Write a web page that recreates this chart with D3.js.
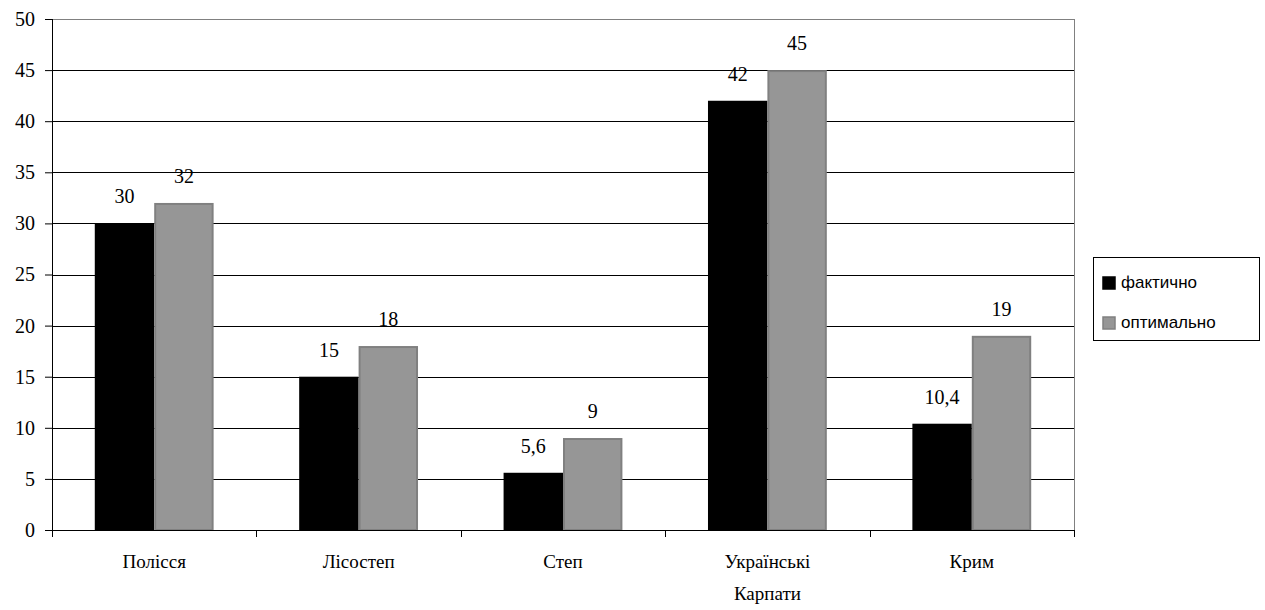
<!DOCTYPE html>
<html>
<head>
<meta charset="utf-8">
<script src="https://cdnjs.cloudflare.com/ajax/libs/d3/7.8.4/d3.min.js"></script>
<style>
  body { margin: 0; background: #fff; }
  svg { display: block; }
</style>
</head>
<body>
<div id="chart"></div>
<script>
const regions = ["Полісся", "Лісостеп", "Степ", "Українські Карпати", "Крим"];
const fact = [30, 15, 5.6, 42, 10.4];
const optimal = [32, 18, 9, 45, 19];
const seriesNames = ["фактично", "оптимально"];
const yTicks = [0, 5, 10, 15, 20, 25, 30, 35, 40, 45, 50];

const SERIF = "'Liberation Serif', 'Times New Roman', serif";
const SANS = "'Liberation Sans', Arial, sans-serif";

const W = 1265, H = 610;
const margin = { top: 19, right: 191, bottom: 80, left: 52 };
const width = W - margin.left - margin.right,
  height = H - margin.top - margin.bottom;

const svg = d3.select("#chart").append("svg")
  .attr("width", W).attr("height", H);
const g = svg.append("g")
  .attr("transform", `translate(${margin.left},${margin.top})`);

// echelles
const x = d3.scaleBand().domain(regions).range([0, width]);
const xInner = d3.scaleBand().domain(seriesNames)
  .range([0, x.bandwidth()]).paddingInner(0).paddingOuter(0.72);
const y = d3.scaleLinear().domain([0, 50]).range([height, 0]);

// lignes de grille
g.selectAll(".grid").data(yTicks.filter(d => d > 0)).join("line")
  .attr("x1", 0).attr("x2", width)
  .attr("y1", d => Math.round(y(d)) + 0.5).attr("y2", d => Math.round(y(d)) + 0.5)
  .attr("stroke", d => d === 50 ? "#808080" : "#000").attr("stroke-width", 1);

// bord droit
g.append("line")
  .attr("x1", width + 0.5).attr("x2", width + 0.5)
  .attr("y1", 0).attr("y2", height)
  .attr("stroke", "#808080");

// barres
const colors = ["#000000", "#969696"];
const strokes = ["#000000", "#808080"];
const rows = regions.map((r, i) => ({ region: r, values: [fact[i], optimal[i]] }));

const grp = g.selectAll(".cat").data(rows).join("g")
  .attr("transform", d => `translate(${x(d.region)},0)`);

grp.selectAll("rect").data(d => d.values.map((v, k) => ({ v, k }))).join("rect")
  .attr("x", d => xInner(seriesNames[d.k]) + 1)
  .attr("y", d => y(d.v) + 1)
  .attr("width", xInner.bandwidth() - 2)
  .attr("height", d => height - y(d.v) - 1)
  .attr("fill", d => colors[d.k])
  .attr("stroke", d => strokes[d.k])
  .attr("stroke-width", 2);

const fmt = v => String(v).replace(".", ",");
grp.selectAll("text.val").data(d => d.values.map((v, k) => ({ v, k }))).join("text")
  .attr("class", "val")
  .attr("x", d => xInner(seriesNames[d.k]) + xInner.bandwidth() / 2)
  .attr("y", d => y(d.v) - 20)
  .attr("text-anchor", "middle")
  .style("font-family", SERIF)
  .style("font-size", "20px")
  .text(d => fmt(d.v));

// axe Y
const yAxis = d3.axisLeft(y).tickValues(yTicks).tickSize(7).tickPadding(10);
const ya = g.append("g").call(yAxis).attr("font-family", null).attr("font-size", null);
ya.select(".domain").attr("d", `M0.5,0V${height}`).attr("stroke", "#000");
ya.selectAll(".tick line").attr("stroke", "#000");
ya.selectAll("text")
  .style("font-family", SERIF)
  .style("font-size", "20px").attr("fill", "#000");

// axe X
const xa = g.append("g").attr("transform", `translate(0,${height})`);
xa.append("line").attr("x1", 0).attr("x2", width)
  .attr("y1", 0.5).attr("y2", 0.5).attr("stroke", "#000");
xa.selectAll(".xt").data(d3.range(regions.length + 1)).join("line")
  .attr("x1", i => Math.round(i * x.step()) + 0.5).attr("x2", i => Math.round(i * x.step()) + 0.5)
  .attr("y1", 0).attr("y2", 7).attr("stroke", "#000");
const xl = xa.selectAll(".xl").data(regions).join("text")
  .attr("text-anchor", "middle")
  .style("font-family", SERIF)
  .style("font-size", "19px")
  .attr("transform", d => `translate(${x(d) + x.bandwidth() / 2},38)`);
xl.selectAll("tspan").data(d => d.split(" ")).join("tspan")
  .attr("x", 0).attr("dy", (d, i) => i === 0 ? 0 : 32)
  .text(d => d);

// legende
const legend = svg.append("g").attr("transform", "translate(1093,257)");
legend.append("rect").attr("x", 0.5).attr("y", 0.5)
  .attr("width", 166).attr("height", 83)
  .attr("fill", "#fff").attr("stroke", "#000");
seriesNames.forEach((s, k) => {
  const ly = 20 + k * 40;
  legend.append("rect")
    .attr("x", 10).attr("y", ly)
    .attr("width", 12).attr("height", 12)
    .attr("fill", colors[k]).attr("stroke", strokes[k]).attr("stroke-width", 1.5);
  legend.append("text")
    .attr("x", 28).attr("y", ly + 11)
    .style("font-family", SANS)
    .style("font-size", "17px")
    .text(s);
});
</script>
</body>
</html>
